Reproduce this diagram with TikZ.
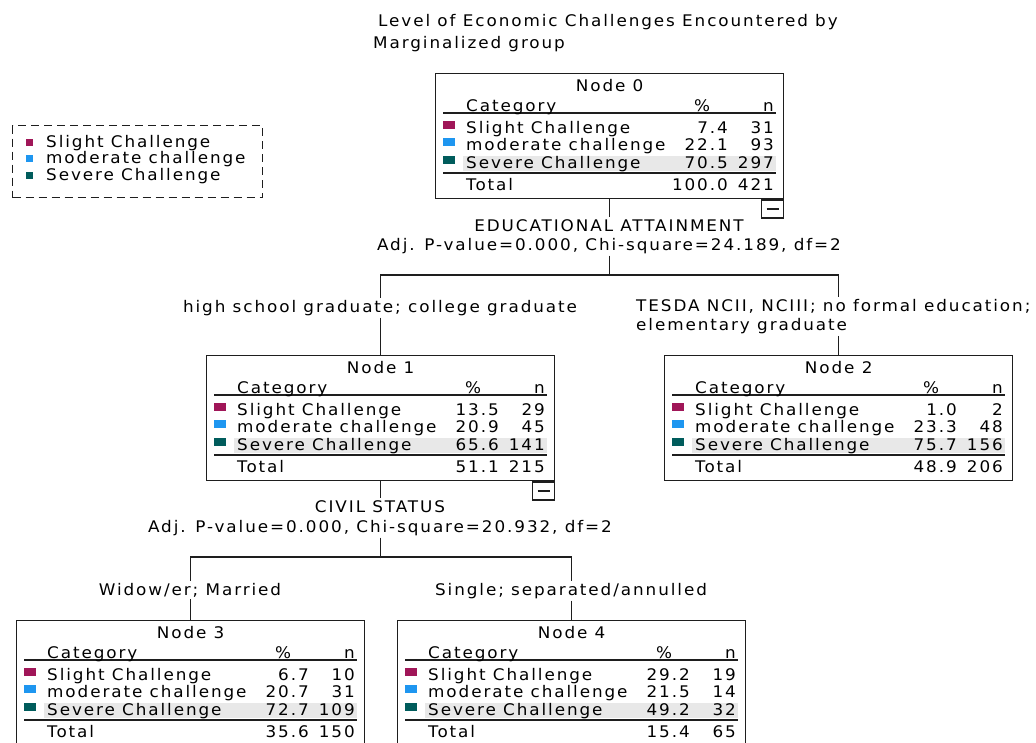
\documentclass[tikz,border=0pt]{standalone}
\usepackage{fontspec}
\setmainfont{DejaVu Sans}[LetterSpace=12,FakeStretch=1.05]
\usetikzlibrary{calc,positioning}
\definecolor{slightred}{RGB}{160,22,88}
\definecolor{modblue}{RGB}{30,150,240}
\definecolor{severeteal}{RGB}{0,92,92}
\definecolor{bandgray}{RGB}{232,232,232}
\definecolor{inkgray}{RGB}{30,30,30}
\tikzset{
  treebox/.style={rectangle,draw=inkgray,line width=1.3pt,anchor=north west,minimum width=348pt,minimum height=125pt,inner sep=0pt},
  celltext/.style={inner sep=0pt,font=\fontsize{16}{19}\selectfont},
  splitlabel/.style={inner sep=2pt,font=\fontsize{16}{19}\selectfont},
  link/.style={line width=1.4pt,color=inkgray},
  rulethin/.style={line width=1.5pt,color=inkgray},
  rulethick/.style={line width=2.2pt,color=inkgray},
  minusbox/.style={rectangle,draw=inkgray,line width=1.3pt,anchor=north east,minimum width=22pt,minimum height=18pt,inner sep=0pt},
  legendbox/.style={rectangle,draw=inkgray,line width=1.3pt,dash pattern=on 8pt off 5pt,anchor=north west,minimum width=250pt,minimum height=72pt,inner sep=0pt}
}

\begin{document}
\begin{tikzpicture}[x=1pt,y=-1pt]
  \useasboundingbox[fill=white] (0,0) rectangle (1036,742);

  %% Title
  \node[celltext,anchor=base west] (title1) at (378,26) {Level of Economic Challenges Encountered by};
  \node[celltext,anchor=base west] (title2) at (373,48) {Marginalized group};

  %% Legend
  \node[legendbox] (legend) at (12,125) {};
  \foreach \lbl/\col/\by [count=\r] in {Slight Challenge/slightred/147,
      moderate challenge/modblue/163, Severe Challenge/severeteal/180} {
    \fill[\col] ($(legend.north west)+(14,\by-133)$) rectangle +(7,7);
    \node[celltext,anchor=base west] (legend-\r) at (46,\by) {\lbl};
  }

  %% Tree nodes
  \foreach \nm/\lx/\ty/\num/\sp/\sn/\mp/\mn/\vp/\vn/\tp/\tn in {
      n0/435/73/0/7.4/31/22.1/93/70.5/297/100.0/421,
      n1/206/355/1/13.5/29/20.9/45/65.6/141/51.1/215,
      n2/664/355/2/1.0/2/23.3/48/75.7/156/48.9/206,
      n3/16/620/3/6.7/10/20.7/31/72.7/109/35.6/150,
      n4/397/620/4/29.2/19/21.5/14/49.2/32/15.4/65} {
    \node[treebox] (\nm) at (\lx,\ty) {};
    \fill[bandgray] ($(\nm.north west)+(28,83)$) rectangle ($(\nm.north west)+(341,98)$);
    \draw[rulethin] ($(\nm.north west)+(8,40)$) -- ($(\nm.north west)+(341,40)$);
    \draw[rulethick] ($(\nm.north west)+(8,100)$) -- ($(\nm.north west)+(341,100)$);
    \node[celltext,anchor=base] (\nm-title) at ($(\nm.north)+(0,18)$) {Node \num};
    \node[celltext,anchor=base west] (\nm-cat) at ($(\nm.north west)+(31,38)$) {Category};
    \node[celltext,anchor=base] (\nm-pct) at ($(\nm.north west)+(267,38)$) {\%};
    \node[celltext,anchor=base east] (\nm-n) at ($(\nm.north west)+(339,38)$) {n};
    \foreach \lbl/\col/\pc/\cnt/\by [count=\r] in {Slight Challenge/slightred/\sp/\sn/60,
        moderate challenge/modblue/\mp/\mn/77, Severe Challenge/severeteal/\vp/\vn/95} {
      \fill[\col] ($(\nm.north west)+(8,\by-12)$) rectangle +(12,8);
      \node[celltext,anchor=base west] (\nm-lbl\r) at ($(\nm.north west)+(31,\by)$) {\lbl};
      \node[celltext,anchor=base east] (\nm-pc\r) at ($(\nm.north west)+(293,\by)$) {\pc};
      \node[celltext,anchor=base east] (\nm-cnt\r) at ($(\nm.north west)+(339,\by)$) {\cnt};
    }
    \node[celltext,anchor=base west] (\nm-tot) at ($(\nm.north west)+(31,117)$) {Total};
    \node[celltext,anchor=base east] (\nm-totpc) at ($(\nm.north west)+(293,117)$) {\tp};
    \node[celltext,anchor=base east] (\nm-totn) at ($(\nm.north west)+(339,117)$) {\tn};
  }

  %% Collapse boxes
  \foreach \nm in {n0,n1} {
    \node[minusbox] (\nm-fold) at (\nm.south east) {};
    \draw[line width=1.3pt,color=inkgray] ($(\nm-fold.center)+(-6,0)$) -- ($(\nm-fold.center)+(6,0)$);
  }

  %% First split
  \node[splitlabel,anchor=base] (edu) at (609,231) {EDUCATIONAL ATTAINMENT};
  \node[splitlabel,anchor=base] (eduadj) at (609,250) {Adj. P-value=0.000, Chi-square=24.189, df=2};
  \coordinate (split0) at (n0.south |- 0,275);
  \node[splitlabel,anchor=base] (hsc) at (380,312) {high school graduate; college graduate};
  \node[splitlabel,anchor=north west,align=left] (tesda) at (634,297)
      {TESDA NCII, NCIII; no formal education;\\elementary graduate};
  \draw[link] (n0.south) -- (n0.south |- edu.north);
  \draw[link] (n0.south |- eduadj.south) -- (split0);
  \draw[link] (n1.north |- hsc.north) |- (split0) -| (n2.north |- tesda.north);
  \draw[link] (n1.north |- hsc.south) -- (n1.north);
  \draw[link] (n2.north |- tesda.south) -- (n2.north);

  %% Second split
  \node[splitlabel,anchor=base] (civ) at (380,512) {CIVIL STATUS};
  \node[splitlabel,anchor=base] (civadj) at (380,532) {Adj. P-value=0.000, Chi-square=20.932, df=2};
  \coordinate (split1) at (n1.south |- 0,557);
  \node[splitlabel,anchor=base] (wid) at (190,595) {Widow/er; Married};
  \node[splitlabel,anchor=base] (sgl) at (571,595) {Single; separated/annulled};
  \draw[link] (n1.south) -- (n1.south |- civ.north);
  \draw[link] (n1.south |- civadj.south) -- (split1);
  \draw[link] (n3.north |- wid.north) |- (split1) -| (n4.north |- sgl.north);
  \draw[link] (n3.north |- wid.south) -- (n3.north);
  \draw[link] (n4.north |- sgl.south) -- (n4.north);
\end{tikzpicture}
\end{document}
